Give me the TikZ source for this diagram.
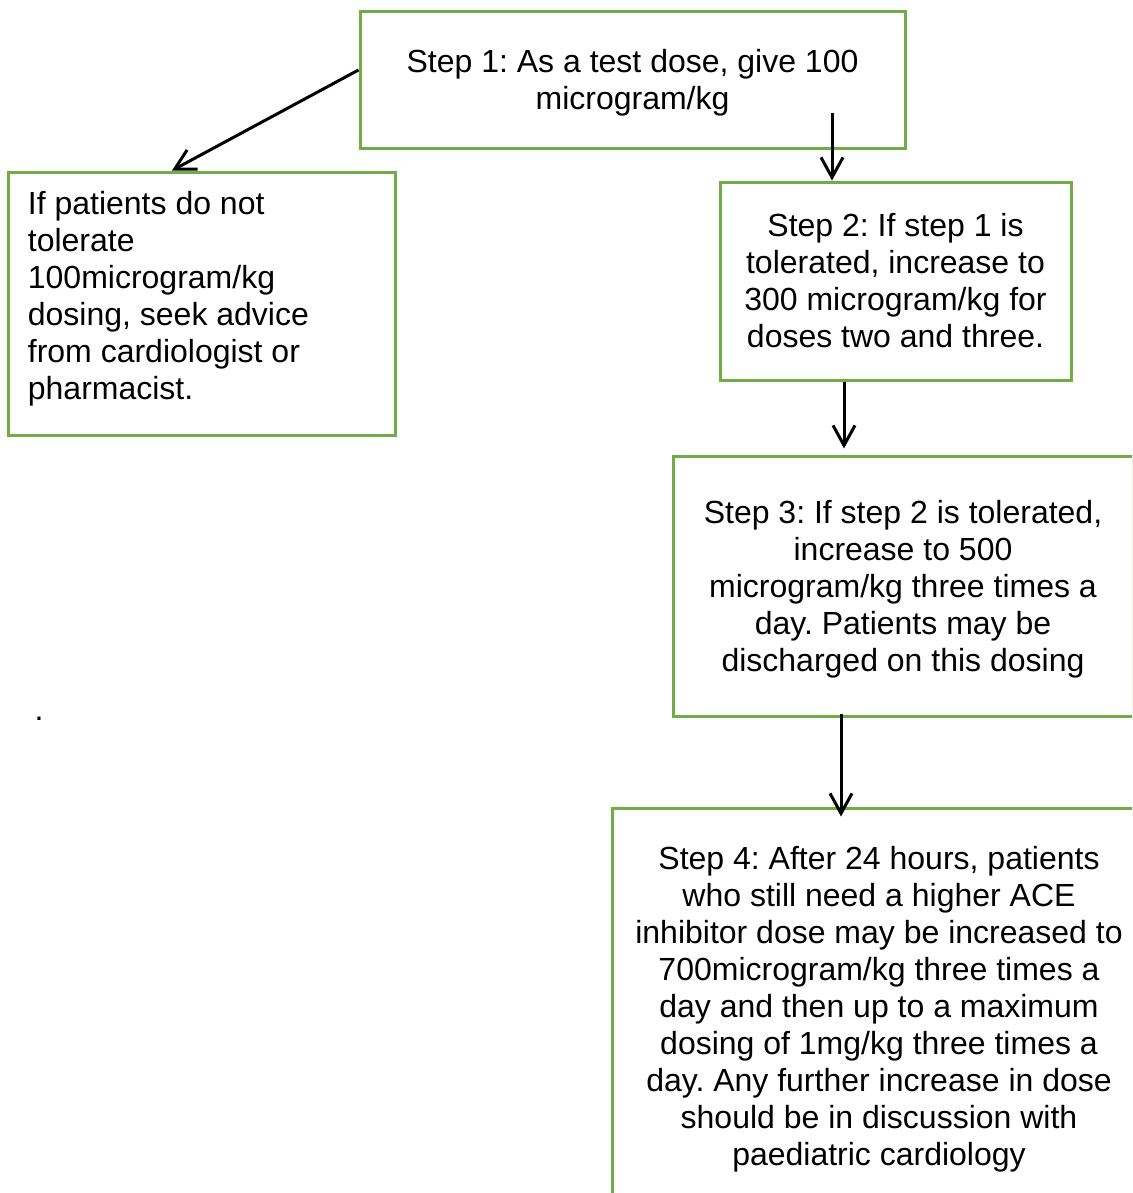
\documentclass[tikz,border=0pt]{standalone}
\usepackage{fontspec}
\setmainfont{Liberation Sans}
\frenchspacing
\definecolor{boxgreen}{RGB}{112,173,71}
\usetikzlibrary{arrows.meta, positioning, calc}
\newcommand\wstrut{\rule[-3.4pt]{0pt}{17.9pt}}

\begin{document}
\begin{tikzpicture}[
  x=0.5pt, y=-0.5pt,
  stepbox/.style={rectangle, draw=boxgreen, line width=1.5pt, inner sep=0pt,
                  align=center, font=\fontsize{16}{18.5}\selectfont},
  note/.style={inner sep=0pt, align=left, font=\fontsize{16}{18.5}\selectfont},
  arr/.style={-{Straight Barb[length=10pt, width=11pt]}, line width=1.5pt, black}
]
  \useasboundingbox (0,0) rectangle (1132,1193);
  \clip (0,0) rectangle (1132,1193);

  % Steps
  \node[stepbox, minimum width=272.5pt, minimum height=68pt] (step1) at (632.5,80)
    {\wstrut Step 1: As a test dose, give 100\\microgram/kg\wstrut};
  \node[stepbox, minimum width=193.5pt, minimum height=131.5pt] (fail) at (201.5,303.5) {};
  \node[note, anchor=north west] (failtext) at ([xshift=10.5pt, yshift=-10pt]fail.north west)
    {If patients do not\\tolerate\\100microgram/kg\\dosing, seek advice\\from cardiologist or\\pharmacist.};
  \node[stepbox, minimum width=175.5pt, minimum height=99pt] (step2) at (895.5,281)
    {\wstrut Step 2: If step 1 is\\tolerated, increase to\\300 microgram/kg for\\doses two and three.\wstrut};
  \node[stepbox, minimum width=230pt, minimum height=130pt] (step3) at (903,586)
    {\wstrut Step 3: If step 2 is tolerated,\\increase to 500\\microgram/kg three times a\\day. Patients may be\\discharged on this dosing\wstrut};
  \node[stepbox, minimum width=267pt, minimum height=198pt] (step4) at (879,1006)
    {\wstrut Step 4: After 24 hours, patients\\who still need a higher ACE\\inhibitor dose may be increased to\\700microgram/kg three times a\\day and then up to a maximum\\dosing of 1mg/kg three times a\\day. Any further increase in dose\\should be in discussion with\\paediatric cardiology\wstrut};

  % Stray full stop
  \node[note] (dot) at (39,719) {.};

  % Arrows
  \draw[arr] ([yshift=5pt]step1.west) -- ([xshift=-14.75pt]fail.north);
  \draw[arr] ([xshift=99.75pt, yshift=18pt]step1.south) -- ([xshift=-31.75pt]step2.north);
  \draw[arr] ([xshift=-25.75pt]step2.south) -- ([xshift=-29.5pt, yshift=3pt]step3.north);
  \draw[arr] ([xshift=-31pt, yshift=2pt]step3.south) -- ([xshift=-19pt, yshift=-5pt]step4.north);
\end{tikzpicture}
\end{document}
